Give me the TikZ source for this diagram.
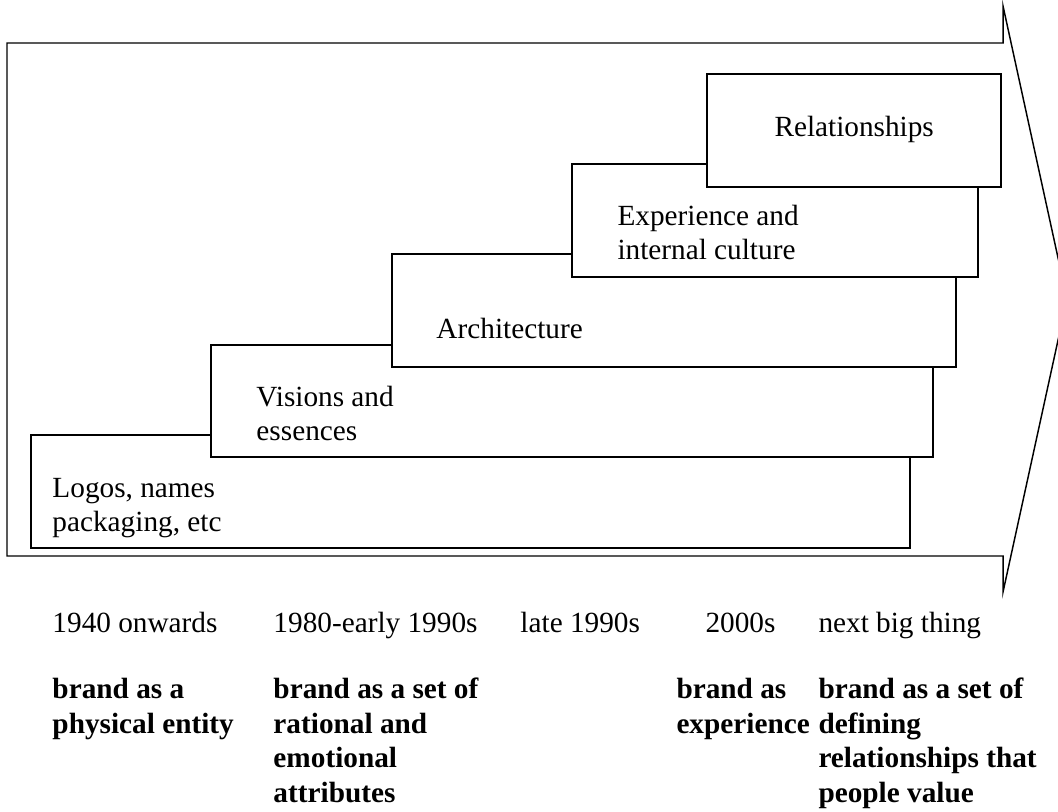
\documentclass[tikz,border=0pt]{standalone}
\usepackage{fontspec}
\setmainfont{Liberation Serif}
\begin{document}
\begin{tikzpicture}[x=0.41pt,y=-0.41pt,
  boxst/.style={draw=black,fill=white,line width=0.55pt},
  arrowst/.style={draw=black,line width=0.6pt,line join=miter},
  lbl/.style={anchor=base west,inner sep=0pt,align=left,font=\fontsize{12}{13.9}\selectfont},
  blbl/.style={anchor=base west,inner sep=0pt,align=left,font=\fontsize{12}{14.1}\selectfont\bfseries}]
\useasboundingbox (0,0) rectangle (1058,811);
\clip (0,0) rectangle (1058,811);
% big arrow
\coordinate (a1) at (7,43);
\coordinate (a2) at (1003,43);
\coordinate (a3) at (1003,6);
\coordinate (tip) at (1067,299);
\coordinate (a5) at (1003,592);
\coordinate (a6) at (1003,556);
\coordinate (a7) at (7,556);
\draw[arrowst] (a1) -- (a2) -- (a3) -- (tip) -- (a5) -- (a6) -- (a7) -- cycle;
% stair boxes
\draw[boxst] (31,435) rectangle (910,548);
\draw[boxst] (211,345) rectangle (933,457);
\draw[boxst] (392,254) rectangle (956,367);
\draw[boxst] (572,164) rectangle (978,277);
\draw[boxst] (707,74) rectangle (1001,187);
% box texts (base anchor = baseline of last line)
\node[lbl] (tlogos) at (52,531) {Logos, names\\packaging, etc};
\node[lbl] (tvis) at (256,440) {Visions and\\essences};
\node[lbl] (tarch) at (436,338) {Architecture};
\node[lbl] (texp) at (617,259) {Experience and\\internal culture};
\node[lbl] (trel) at (774,136) {Relationships};
% periods
\node[lbl] (p1) at (52,632) {1940 onwards};
\node[lbl] (p2) at (273,632) {1980-early 1990s};
\node[lbl] (p3) at (520,632) {late 1990s};
\node[lbl] (p4) at (705,632) {2000s};
\node[lbl] (p5) at (818,632) {next big thing};
% descriptions
\node[blbl] (d1) at (52,733) {brand as a\\physical entity};
\node[blbl] (d2) at (273,802) {brand as a set of\\rational and\\emotional\\attributes};
\node[blbl] (d4) at (676,733) {brand as\\experience};
\node[blbl] (d5) at (818,802) {brand as a set of\\defining\\relationships that\\people value};
\end{tikzpicture}
\end{document}
